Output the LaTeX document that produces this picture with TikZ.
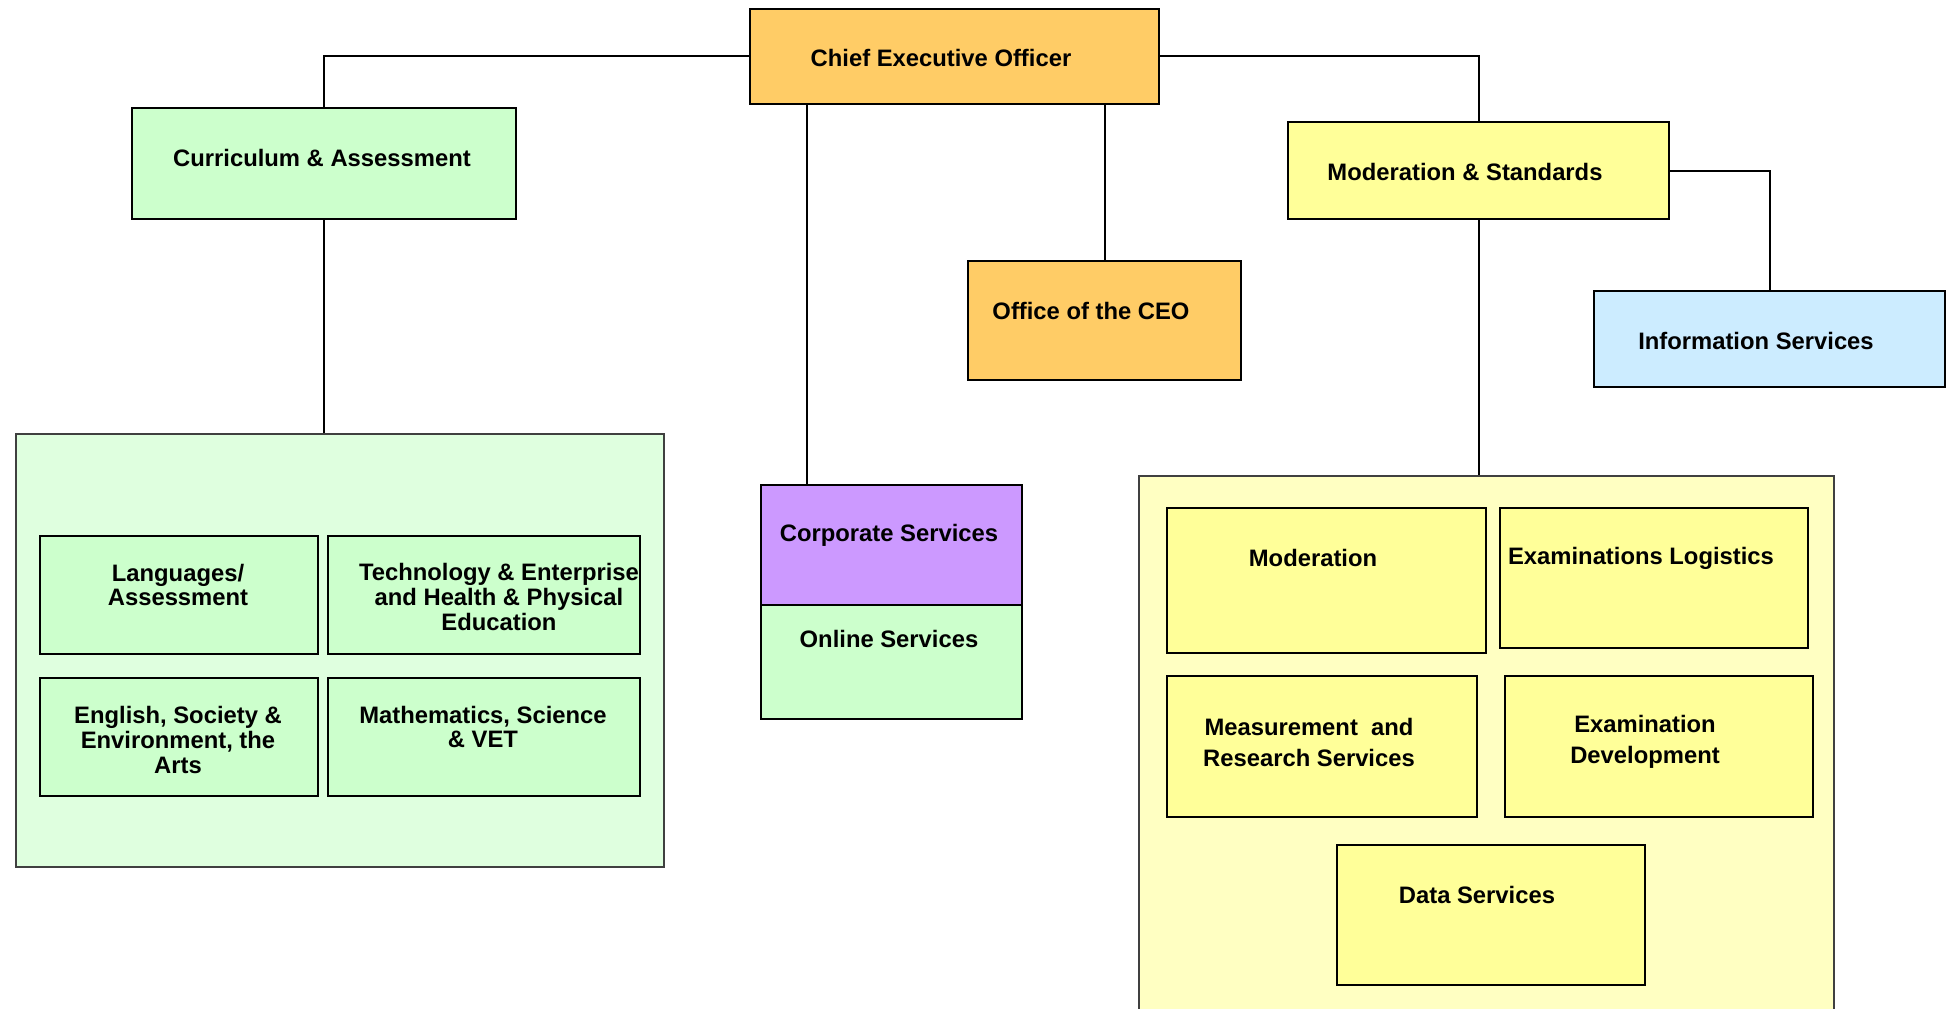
\documentclass[tikz,border=0pt]{standalone}
\usepackage{fontspec}
\setmainfont{Liberation Sans}
\usetikzlibrary{positioning}

\definecolor{ceoorange}{HTML}{FFCC66}
\definecolor{unitgreen}{HTML}{CCFFCC}
\definecolor{groupgreen}{HTML}{DFFFDF}
\definecolor{corppurple}{HTML}{CC99FF}
\definecolor{unityellow}{HTML}{FFFF99}
\definecolor{groupyellow}{HTML}{FFFFC2}
\definecolor{infoblue}{HTML}{CCECFF}

\begin{document}
\begin{tikzpicture}[x=0.5pt,y=-0.5pt,
    box/.style={draw,line width=1pt,anchor=north west,inner sep=0pt},
    group/.style={draw=black!75,line width=0.8pt,anchor=north west,inner sep=0pt},
    txt/.style={font=\fontsize{11.9}{12.4}\selectfont\bfseries,align=center,inner sep=0pt},
    link/.style={line width=1pt}]

        \clip (0,0) rectangle (1950,1008);

        % boxes
        \node[box,fill=ceoorange,  minimum width=204.5pt,minimum height=47.75pt] (CEO) at (749,7.5)  { };
        \node[box,fill=unitgreen,  minimum width=192pt,  minimum height=55.5pt]  (CUR) at (131,107)  { };
        \node[group,fill=groupgreen,minimum width=324pt, minimum height=216.5pt] (GRN) at (15,433)   { };
        \node[box,fill=unitgreen,  minimum width=139pt,  minimum height=59pt]    (LAN) at (39,535)   { };
        \node[box,fill=unitgreen,  minimum width=156pt,  minimum height=59pt]    (TEC) at (327,535)  { };
        \node[box,fill=unitgreen,  minimum width=139pt,  minimum height=59pt]    (ENG) at (39,677)   { };
        \node[box,fill=unitgreen,  minimum width=156pt,  minimum height=59pt]    (MAT) at (327,677)  { };
        \node[box,fill=corppurple, minimum width=130.5pt,minimum height=60pt]    (COR) at (760,484)  { };
        \node[box,fill=unitgreen,  minimum width=130.5pt,minimum height=57pt]    (ONL) at (760,604)  { };
        \node[box,fill=ceoorange,  minimum width=136.5pt,minimum height=59.5pt]  (OFF) at (967,260)  { };
        \node[box,fill=unityellow, minimum width=190.5pt,minimum height=48.5pt]  (MST) at (1287,121) { };
        \node[box,fill=infoblue,   minimum width=175.5pt,minimum height=48pt]    (INF) at (1593,290) { };
        \node[group,fill=groupyellow,minimum width=347.5pt,minimum height=280pt] (YEL) at (1138,475) { };
        \node[box,fill=unityellow, minimum width=159.5pt,minimum height=72.5pt]  (MOD) at (1166,507) { };
        \node[box,fill=unityellow, minimum width=154pt,  minimum height=70pt]    (EXL) at (1499,507) { };
        \node[box,fill=unityellow, minimum width=155pt,  minimum height=70.5pt]  (MEA) at (1166,675) { };
        \node[box,fill=unityellow, minimum width=154pt,  minimum height=70.5pt]  (EXD) at (1504,675) { };
        \node[box,fill=unityellow, minimum width=154pt,  minimum height=70pt]    (DAT) at (1336,844) { };

        % labels
        \node[txt] (CEOt) at (941,58)   {Chief Executive Officer};
        \node[txt] (CURt) at (322,158)  {Curriculum \& Assessment};
        \node[txt] (LANt) at (178,585)  {Languages/\\Assessment};
        \node[txt] (TECt) at (499,597)  {Technology \& Enterprise\\and Health \& Physical\\Education};
        \node[txt] (ENGt) at (178,740)  {English, Society \&\\Environment, the\\Arts};
        \node[txt] (MATt) at (483,727)  {Mathematics, Science\\\& VET};
        \node[txt] (CORt) at (889,535)  {Corporate Services};
        \node[txt] (ONLt) at (889,639)  {Online Services};
        \node[txt] (OFFt) at (1091,311) {Office of the CEO};
        \node[txt] (MSTt) at (1465,172) {Moderation \& Standards};
        \node[txt] (INFt) at (1756,341) {Information Services};
        \node[txt] (MODt) at (1313,558) {Moderation};
        \node[txt] (EXLt) at (1641,558) {Examinations Logistics};
        \node[txt,font=\fontsize{11.9}{15.5}\selectfont\bfseries]
                   (MEAt) at (1309,742) {Measurement~ and\\Research Services};
        \node[txt,font=\fontsize{11.9}{15.5}\selectfont\bfseries]
                   (EXDt) at (1645,742) {Examination\\Development};
        \node[txt] (DATt) at (1477,895) {Data Services};

        % reporting lines
        \coordinate (C1) at ([xshift=29pt]CEO.south west);
        \draw[link] (CEO.west)  -| (CUR.north);
        \draw[link] (CEO.east)  -| (MST.north);
        \draw[link] (MST.east)  -| (INF.north);
        \draw[link] (C1)        -- (C1 |- COR.north);
        \draw[link] (OFF.north) -- (OFF.north |- CEO.south);
        \draw[link] (CUR.south) -- (CUR.south |- GRN.north);
        \draw[link] (MST.south) -- (MST.south |- YEL.north);
      \end{tikzpicture}
\end{document}
